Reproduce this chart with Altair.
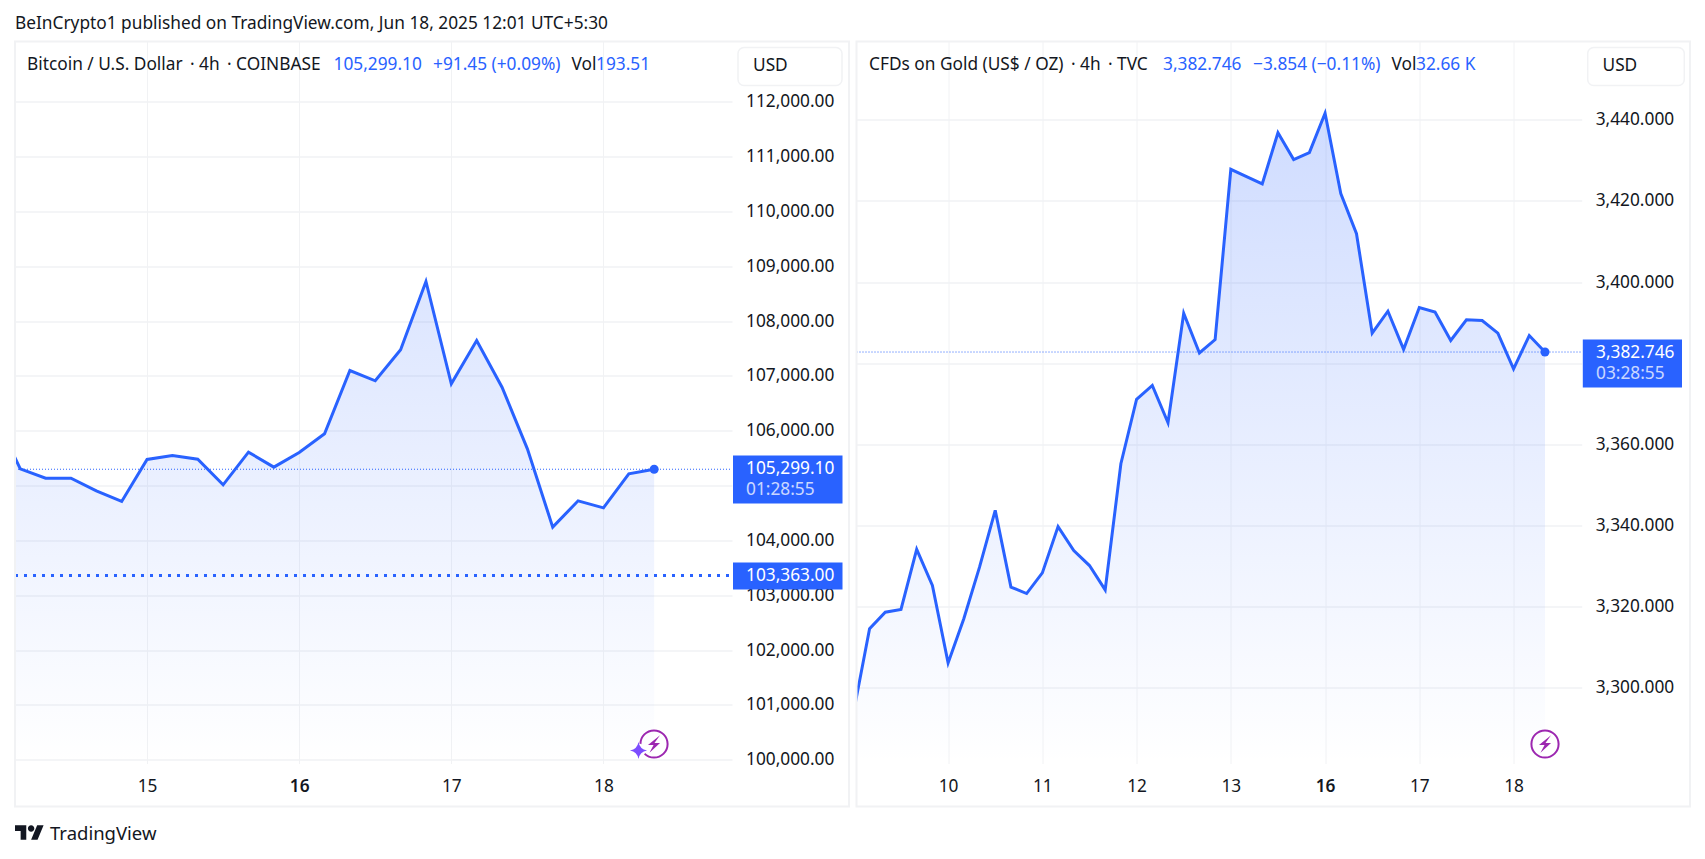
import altair as alt
import pandas as pd

FONT = "Noto Sans"
BLUE = "#2962ff"
INK = "#131722"
GRID = "#f1f2f4"
FS = 17.3

btc_values = [106285, 105307, 105136, 105136, 104905, 104711, 105477, 105550, 105483, 105015,
              105611, 105337, 105604, 105945, 107100, 106912, 107477, 108723, 106857, 107647,
              106796, 105671, 104243, 104723, 104595, 105216, 105299.10]
gold_values = [3294.3, 3314.5, 3318.6, 3319.3, 3334.1, 3325.2, 3306.1, 3317.0, 3329.7, 3343.7,
               3324.8, 3323.2, 3328.3, 3339.7, 3333.8, 3330.1, 3324.1, 3355.2, 3371.1, 3374.5,
               3365.3, 3392.3, 3382.5, 3385.8, 3427.8, 3426.0, 3424.2, 3436.8, 3430.2, 3431.9,
               3441.6, 3421.8, 3411.9, 3387.4, 3392.8, 3383.4, 3393.7, 3392.6, 3385.6, 3390.7,
               3390.5, 3387.4, 3378.6, 3386.8, 3382.746]
btc_ticks = [15, 16, 17, 18]
gold_sessions = [-1, 0, 1, 2, 3, 4, 5, 6]
gold_labels = ["9", "10", "11", "12", "13", "16", "17", "18"]
btc_y_ticks = [100000, 101000, 102000, 103000, 104000, 105000, 106000, 107000, 108000, 109000, 110000, 111000, 112000]
gold_y_ticks = [3300, 3320, 3340, 3360, 3380, 3400, 3420, 3440]

btc_df = pd.DataFrame({"x": [14 + k / 6 for k in range(len(btc_values))], "v": btc_values})
gold_df = pd.DataFrame({"x": [-1 + k / 6 for k in range(len(gold_values))], "v": gold_values})

ONE = alt.Data(values=[{"a": 1}])
LIGHTNING = "M0.67,-0.97 L-0.67,0.1 L-0.05,0.1 L-0.5,0.97 L0.67,-0.1 L0.05,-0.1 Z"
SPARK = "M0,-1 Q0.15,-0.15 1,0 Q0.15,0.15 0,1 Q-0.15,0.15 -1,0 Q-0.15,-0.15 0,-1 Z"
LOGO = ("M-0.222,0.5 L-0.611,0.5 L-0.611,-0.111 L-1,-0.111 L-1,-0.5 L-0.222,-0.5 Z "
        "M0.556,0.5 L0.111,0.5 L0.528,-0.5 L0.972,-0.5 Z "
        "M-0.111,-0.278 A0.222,0.222 0 1,0 0.333,-0.278 A0.222,0.222 0 1,0 -0.111,-0.278 Z")


def txt(s, x, y, ox, color=INK, size=FS, align="left", weight=400, opacity=1):
    return alt.Chart(ONE).mark_text(text=s, font=FONT, fontSize=size, color=color, align=align,
                                    baseline="middle", fontWeight=weight, opacity=opacity, clip=False
                                    ).encode(x=alt.value(x - ox), y=alt.value(y - 41))


def box(x1, y1, x2, y2, ox, fill=None, stroke=None, radius=0, sw=1.5):
    kw = {}
    if fill:
        kw["fill"] = fill
    else:
        kw["fillOpacity"] = 0
    if stroke:
        kw["stroke"] = stroke
        kw["strokeWidth"] = sw
    return alt.Chart(ONE).mark_rect(cornerRadius=radius, clip=False, **kw).encode(
        x=alt.value(x1 - ox), x2=alt.value(x2 - ox), y=alt.value(y1 - 41), y2=alt.value(y2 - 41))


def icon(shape, x, y, size, ox, fill=None, stroke=None, sw=0):
    kw = {"fill": fill, "fillOpacity": 1} if fill else {"fillOpacity": 0}
    if stroke:
        kw.update(stroke=stroke, strokeWidth=sw)
    else:
        kw.update(strokeWidth=0)
    return alt.Chart(ONE).mark_point(shape=shape, size=size, opacity=1, clip=False, **kw).encode(
        x=alt.value(x - ox), y=alt.value(y - 41))


def panel(df, ydom, xdom, yticks, yfmt, xaxis, w, h, top_alpha, level_rules, extras):
    x = alt.X("x:Q", scale=alt.Scale(domain=xdom, nice=False, zero=False), axis=alt.Axis(
        title=None, domain=False, ticks=False, gridColor=GRID, gridWidth=1, labelFont=FONT, labelFontSize=FS,
        labelColor=INK, labelPadding=14, labelFlush=False, labelBound=False, labelOverlap=False, **xaxis))
    y = alt.Y("v:Q", scale=alt.Scale(domain=ydom, nice=False, zero=False), axis=alt.Axis(
        title=None, orient="right", values=yticks, format=yfmt, domain=False, ticks=False, gridColor=GRID,
        gridWidth=1.5, labelFont=FONT, labelFontSize=FS, labelColor=INK, labelPadding=13.5, labelAlign="left"))
    base = alt.Chart(df)
    grad = alt.Gradient(gradient="linear", x1=0, y1=0, x2=0, y2=1, stops=[
        alt.GradientStop(offset=0, color=f"rgba(41,98,255,{top_alpha})"),
        alt.GradientStop(offset=1, color="rgba(41,98,255,0.0)")])
    area = base.mark_area(color=grad, clip=True).encode(x=x, y=y, y2=alt.datum(ydom[0]))
    line = base.mark_line(color=BLUE, strokeWidth=3, clip=True, strokeJoin="miter").encode(x=x, y=y)
    dot = alt.Chart(df.tail(1)).mark_point(color=BLUE, filled=True, size=81, opacity=1, clip=False).encode(x=x, y=y)
    rules = [alt.Chart(ONE).mark_rule(color=BLUE, strokeWidth=sw, strokeDash=dash).encode(
        y=alt.datum(v, scale=alt.Scale(domain=ydom, nice=False, zero=False)),
        x=alt.value(0), x2=alt.value(w)) for v, sw, dash in level_rules]
    return alt.layer(area, line, *rules, dot, *extras).properties(width=w, height=h)


btc_extras = [
    box(15, 41, 849, 806, 15, stroke=GRID, sw=2),
    box(738, 47, 842, 85, 15, fill="#ffffff", stroke=GRID, radius=6),
    txt("USD", 753, 65.5, 15),
    txt("BeInCrypto1 published on TradingView.com, Jun 18, 2025 12:01 UTC+5:30", 15, 23, 15),
    txt("Bitcoin / U.S. Dollar\u2009 · 4h\u2009 · COINBASE", 27, 64, 15),
    txt("105,299.10", 333.5, 64, 15, BLUE),
    txt("+91.45 (+0.09%)", 433, 64, 15, BLUE),
    txt("Vol", 571.5, 64, 15),
    txt("193.51", 596, 64, 15, BLUE),
    box(733, 455, 842.5, 503, 15, fill=BLUE),
    txt("105,299.10", 746, 468, 15, "#ffffff"),
    txt("01:28:55", 746, 489, 15, "#ffffff", opacity=0.75),
    box(733, 562, 842.5, 589, 15, fill=BLUE),
    txt("103,363.00", 746, 575, 15, "#ffffff"),
    icon("circle", 654, 743.5, 740, 15, stroke="#9c27b0", sw=2),
    icon(LIGHTNING, 654, 743.5, 324, 15, fill="#9c27b0"),
    icon("circle", 638.5, 750, 200, 15, fill="#ffffff"),
    icon(SPARK, 638.5, 750, 290, 15, fill="#7c4dff"),
    icon(LOGO, 29.5, 832, 841, 15, fill=INK),
    txt("TradingView", 50, 833, 15, size=18.5),
]
gold_extras = [
    box(850, 41, 855.6, 806, 856.5, fill="#ffffff"),
    box(856.5, 41, 1690, 806, 856.5, stroke=GRID, sw=2),
    box(1587.7, 47, 1684.3, 85, 856.5, fill="#ffffff", stroke=GRID, radius=6),
    txt("USD", 1602.5, 65.5, 856.5),
    txt("CFDs on Gold (US$ / OZ)\u2009 · 4h\u2009 · TVC", 869, 64, 856.5),
    txt("3,382.746", 1163, 64, 856.5, BLUE),
    txt("−3.854 (−0.11%)", 1253, 64, 856.5, BLUE),
    txt("Vol", 1391.5, 64, 856.5),
    txt("32.66 K", 1416, 64, 856.5, BLUE),
    box(1582.8, 339, 1682, 387, 856.5, fill=BLUE),
    txt("3,382.746", 1596, 352, 856.5, "#ffffff"),
    txt("03:28:55", 1596, 373, 856.5, "#ffffff", opacity=0.75),
    icon("circle", 1545, 743.5, 740, 856.5, stroke="#9c27b0", sw=2),
    icon(LIGHTNING, 1545, 743.5, 324, 856.5, fill="#9c27b0"),
]

left = panel(btc_df, [99932.5, 113100], [14.132, 18.845], btc_y_ticks, ",.2f",
             dict(values=btc_ticks, format="d", labelFontWeight=alt.expr("datum.value==16?600:400")),
             717, 722, 0.165,
             [(105299.10, 1, [1, 2]), (103363, 3, [3, 6])], btc_extras)
label_list = ",".join(f"'{s}'" for s in gold_labels)
right = panel(gold_df, [3281.3, 3459.3], [-0.972, 6.723], gold_y_ticks, ",.3f",
              dict(values=gold_sessions, labelExpr=f"[{label_list}][datum.value+1]",
                   labelFontWeight=alt.expr("datum.value==4?600:400")),
              725.2, 722, 0.225,
              [(3382.746, 1, [1, 2])], gold_extras)

chart = (
    alt.hconcat(left, right, spacing=124.5, bounds="flush",
                padding={"left": 5, "top": 6.5, "right": 0, "bottom": 0}, background="#ffffff")
    .resolve_scale(x="independent", y="independent")
    .configure_view(stroke=None)
)
chart.save("out.html", embed_options={"renderer": "svg", "actions": False})
